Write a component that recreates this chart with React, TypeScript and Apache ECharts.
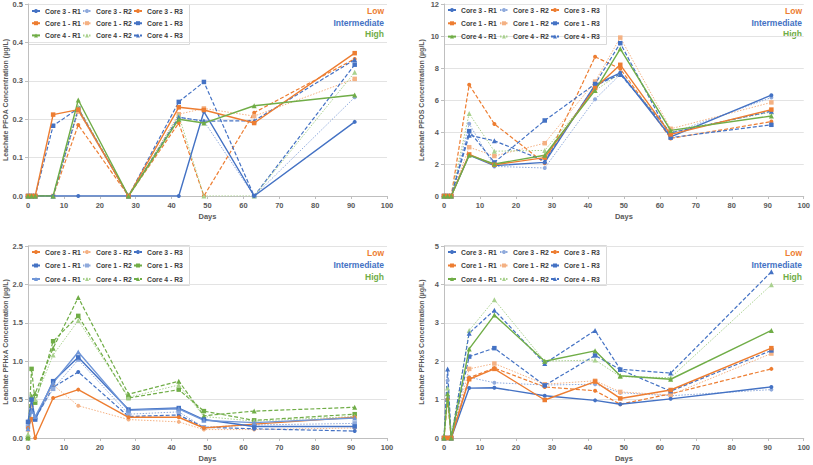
import React, { useEffect, useRef } from "react";
import * as echarts from "echarts";

const days = [0, 1, 2, 7, 14, 28, 42, 49, 63, 91];
const seriesNames = [
  "Core 3 - R1", "Core 3 - R2", "Core 3 - R3",
  "Core 1 - R1", "Core 1 - R2", "Core 1 - R3",
  "Core 4 - R1", "Core 4 - R2", "Core 4 - R3",
];
const levelLabels = ["Low", "Intermediate", "High"];

// rows follow seriesNames order
const pfoaValues = [
  [0, 0, 0, 0, 0, 0, 0, 0.22, 0, 0.193],
  [0, 0, 0, 0, 0.222, 0, 0.205, 0.195, 0, 0.257],
  [0, 0, 0, 0, 0.185, 0, 0.19, 0, 0.217, 0.357],
  [0, 0, 0, 0.212, 0.225, 0, 0.231, 0.224, 0.19, 0.372],
  [0, 0, 0, 0, 0.22, 0, 0.213, 0.228, 0.208, 0.305],
  [0, 0, 0, 0.183, 0.228, 0, 0.245, 0.297, 0, 0.342],
  [0, 0, 0, 0, 0.25, 0, 0.2, 0.19, 0.235, 0.263],
  [0, 0, 0, 0, 0.232, 0, 0.21, 0, 0, 0.322],
  [0, 0, 0, 0, 0.226, 0, 0.205, 0.195, 0.196, 0.355],
];
const pfosValues = [
  [0, 0, 0, 2.55, 1.9, 2.1, 6.95, 7.7, 3.7, 6.3],
  [0, 0, 0, 4.52, 1.85, 1.75, 6.05, 7.6, 3.9, 6.15],
  [0, 0, 0, 6.95, 4.5, 2.05, 8.7, 7.95, 3.6, 4.65],
  [0, 0, 0, 2.6, 1.95, 2.4, 6.75, 8.2, 3.85, 5.4],
  [0, 0, 0, 3.05, 2.5, 3.3, 7.15, 9.9, 4.2, 5.85],
  [0, 0, 0, 4.05, 2.1, 4.72, 7.0, 9.55, 3.65, 4.45],
  [0, 0, 0, 2.55, 2.0, 2.55, 6.6, 9.2, 4.1, 5.0],
  [0, 0, 0, 5.15, 2.8, 2.85, 6.6, 7.65, 4.0, 5.25],
  [0, 0, 0, 3.8, 3.45, 2.2, 6.9, 7.6, 3.95, 5.3],
];
const pfhxaValues = [
  [0.13, 0.25, 0.0, 0.52, 0.63, 0.27, 0.27, 0.13, 0.18, 0.27],
  [0.1, 0.42, 0.27, 0.69, 0.42, 0.24, 0.21, 0.11, 0.11, 0.13],
  [0.2, 0.36, 0.25, 0.66, 0.86, 0.28, 0.3, 0.14, 0.12, 0.09],
  [0.21, 0.5, 0.24, 0.74, 1.05, 0.37, 0.39, 0.24, 0.15, 0.15],
  [0.15, 0.52, 0.26, 0.64, 1.02, 0.31, 0.34, 0.14, 0.17, 0.19],
  [0.0, 0.9, 0.46, 1.26, 1.59, 0.52, 0.63, 0.35, 0.23, 0.31],
  [0.12, 0.35, 0.28, 0.72, 1.12, 0.36, 0.38, 0.23, 0.2, 0.26],
  [0.05, 0.55, 0.5, 1.08, 1.53, 0.53, 0.69, 0.28, 0.22, 0.28],
  [0.0, 0.54, 0.58, 1.17, 1.83, 0.57, 0.74, 0.29, 0.35, 0.4],
];
const pfhxsValues = [
  [0, 0, 0, 1.3, 1.31, 1.1, 0.98, 0.88, 1.02, 1.33],
  [0, 1.5, 0, 1.58, 1.44, 1.38, 1.4, 1.18, 1.1, 1.26],
  [0, 1.0, 0, 1.57, 1.82, 1.33, 1.23, 0.88, 1.15, 1.8],
  [0, 0, 0, 1.53, 1.8, 0.99, 1.47, 1.03, 1.25, 2.34],
  [0, 0, 0, 1.8, 1.94, 1.4, 1.49, 1.2, 1.12, 2.2],
  [0, 0, 0, 2.12, 2.34, 1.37, 2.15, 1.78, 1.22, 2.28],
  [0, 1.15, 0, 2.32, 3.2, 2.0, 2.27, 1.62, 1.53, 2.8],
  [0, 1.3, 0, 2.8, 3.6, 2.0, 2.03, 1.6, 1.57, 3.99],
  [0, 1.8, 0, 2.73, 3.33, 1.94, 2.8, 1.79, 1.69, 4.33],
];

const B = "#4472C4", O = "#ED7D31", G = "#70AD47";
const LB = "#8FAADC", LO = "#F4B183", LG = "#A9D18E", MB = "#7096D8";
const colorsA = [B, LB, O, O, LO, B, G, LG, B];
const colorsB = [O, LO, B, B, LB, G, MB, LG, G];
const levelColors = [O, B, G];

const FONT = "Liberation Sans";
const TXT = "#595959";

const panels = [
  { key: "a", values: pfoaValues, colors: colorsA, max: 0.5, interval: 0.1, dec: 1, name: "Leachate PFOA Concentration (µg/L)",
    left: 28, top: 4, width: 359, legX: [31, 82, 133], legTop: 6.5, legGap: 3.2, box: [28, 4, 161, 40], lvlX: 384, lvlY: [12, 24, 35] },
  { key: "b", values: pfosValues, colors: colorsA, max: 12, interval: 2, dec: 0, name: "Leachate PFOS Concentration (µg/L)",
    left: 444, top: 4, width: 360, legX: [447, 499, 550], legTop: 5.5, legGap: 4.3, box: [444, 4, 162, 40], lvlX: 802, lvlY: [12, 24, 35] },
  { key: "c", values: pfhxaValues, colors: colorsB, max: 2.5, interval: 0.5, dec: 1, name: "Leachate PFHxA Concentration (µg/L)",
    left: 28, top: 246, width: 359, legX: [31, 82, 133], legTop: 247.5, legGap: 4.5, box: [28, 245, 161, 40], lvlX: 384, lvlY: [254, 266, 278] },
  { key: "d", values: pfhxsValues, colors: colorsA, max: 5, interval: 1, dec: 0, name: "Leachate PFHxS Concentration (µg/L)",
    left: 444, top: 246, width: 360, legX: [447, 499, 550], legTop: 247.5, legGap: 4.5, box: [444, 245, 162, 40], lvlX: 802, lvlY: [254, 266, 278] },
];

const symbols = ["circle", "circle", "circle", "rect", "rect", "rect", "triangle", "triangle", "triangle"];
const symbolSizes = [4, 4, 4, 4.5, 4.5, 4.5, 5, 5, 5];

function lineStyleFor(i: number, color: string) {
  const r = i % 3;
  if (r === 0) return { color, width: 1.4, type: "solid" as const };
  if (r === 1) return { color, width: 1, type: [1.5, 1.5] as any };
  return { color, width: 1.2, type: [4, 2] as any };
}

export default function App() {
  const ref = useRef<HTMLDivElement>(null);
  useEffect(() => {
    document.body.style.margin = "0";
    if (!ref.current) return;
    const chart = echarts.init(ref.current, null, { renderer: "svg" });

    const grid: any[] = [];
    const xAxis: any[] = [];
    const yAxis: any[] = [];
    const series: any[] = [];
    const legend: any[] = [];
    const graphic: any[] = [];

    panels.forEach((p, pi) => {
      grid.push({ left: p.left, top: p.top, width: p.width, height: 192, containLabel: false });
      xAxis.push({
        type: "value", gridIndex: pi, min: 0, max: 100, interval: 10,
        name: "Days", nameLocation: "middle", nameGap: 16,
        nameTextStyle: { fontFamily: FONT, fontSize: 7.5, fontWeight: "bold", color: TXT },
        axisLine: { show: true, lineStyle: { color: "#BFBFBF", width: 1 } },
        axisTick: { show: true, length: 3, lineStyle: { color: "#BFBFBF" } },
        axisLabel: { fontFamily: FONT, fontSize: 7.5, fontWeight: "bold", color: TXT, margin: 5 },
        splitLine: { show: false },
      });
      yAxis.push({
        type: "value", gridIndex: pi, min: 0, max: p.max, interval: p.interval,
        name: p.name, nameLocation: "middle", nameGap: 19, nameRotate: 90,
        nameTextStyle: { fontFamily: FONT, fontSize: 7, fontWeight: "bold", color: TXT },
        axisLine: { show: true, lineStyle: { color: "#BFBFBF", width: 1 } },
        axisTick: { show: true, length: 3, lineStyle: { color: "#BFBFBF" } },
        axisLabel: {
          fontFamily: FONT, fontSize: 7.5, fontWeight: "bold", color: TXT, margin: 5,
          formatter: (v: number) => v.toFixed(p.dec),
        },
        splitLine: { show: true, lineStyle: { color: "#E3E3E3", width: 1 } },
      });
      seriesNames.forEach((n, si) => {
        const color = p.colors[si];
        series.push({
          type: "line",
          name: p.key + ":" + n,
          xAxisIndex: pi, yAxisIndex: pi,
          data: days.map((d, k) => [d, p.values[si][k]]),
          symbol: symbols[si], symbolSize: symbolSizes[si],
          showAllSymbol: true,
          lineStyle: lineStyleFor(si, color),
          itemStyle: { color },
          emphasis: { disabled: true },
          z: 2 + (si % 3 === 0 ? 1 : 0),
        });
      });
      for (let c = 0; c < 3; c++) {
        legend.push({
          orient: "vertical",
          left: p.legX[c], top: p.legTop,
          itemWidth: 8, itemHeight: 5, itemGap: p.legGap,
          padding: 0,
          data: [0, 1, 2].map((r) => p.key + ":" + seriesNames[r * 3 + c]),
          formatter: (nm: string) => nm.slice(2),
          textStyle: { fontFamily: FONT, fontSize: 6.8, fontWeight: "bold", color: "#404040", lineHeight: 9 },
          selectedMode: false,
        });
      }
      graphic.push({
        type: "rect", left: p.box[0], top: p.box[1],
        shape: { width: p.box[2], height: p.box[3] },
        style: { fill: "rgba(255,255,255,0)", stroke: "#D9D9D9", lineWidth: 1 },
        silent: true, z: 0,
      });
      levelLabels.forEach((t, li) => {
        graphic.push({
          type: "text", right: 813 - p.lvlX, top: p.lvlY[li] - 5.5,
          style: { text: t, fill: levelColors[li], font: `bold 8.5px "${FONT}"`, textAlign: "right" },
          silent: true,
        });
      });
    });

    chart.setOption({
      animation: false,
      backgroundColor: "#fff",
      grid, xAxis, yAxis, series, legend, graphic,
    });
    return () => chart.dispose();
  }, []);
  return <div ref={ref} style={{ width: 813, height: 465 }} />;
}
